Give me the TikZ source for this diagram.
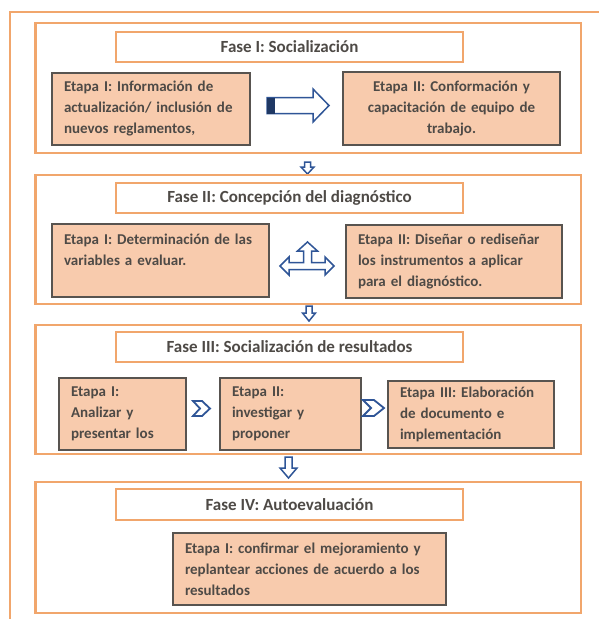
\documentclass[tikz,border=0pt]{standalone}
\usepackage{fontspec}
\setmainfont{Carlito}
\usepackage{xcolor}
\definecolor{naranja}{RGB}{241,166,108}
\definecolor{durazno}{RGB}{248,203,173}
\definecolor{bordegris}{RGB}{88,84,80}
\definecolor{azulflecha}{RGB}{47,85,151}
\definecolor{azuloscuro}{RGB}{31,56,100}
\definecolor{textogris}{RGB}{78,74,70}

\begin{document}
\begin{tikzpicture}[x=1pt,y=1pt]
\tikzstyle{every node}+=[inner sep=0pt, text=textogris, font=\fontsize{15}{21}\selectfont\bfseries]
\tikzstyle{fase}=[draw=naranja, line width=2.4pt, minimum width=545.5pt]
\tikzstyle{titulo}=[draw=naranja, fill=white, line width=2.4pt, minimum width=347pt, minimum height=30pt, font=\fontsize{17}{20}\selectfont\bfseries]
\tikzstyle{etapa}=[draw=bordegris, fill=durazno, line width=1.3pt, inner xsep=12pt, align=left]
\tikzstyle{flecha}=[draw=azulflecha, fill=white, line width=1.5pt, line join=miter]
\fill [white] (0,0) rectangle (599,-619);
\useasboundingbox (0,0) rectangle (599,-619);
\draw [naranja, line width=2.4pt] (10,-619) -- (10,-12) -- (599,-12);

\node [fase, minimum height=130pt] (fase1) at (308.25,-88) {};
\node [titulo] (tit1) at (289.5,-47) {Fase I: Socialización};
\node [etapa, text width=174pt, minimum height=72pt] (et11) at (151,-109) {Etapa I: Información de\\actualización/ inclusión de\\nuevos reglamentos,};
\node [etapa, text width=193pt, minimum height=73pt, align=center] (et12) at (451.5,-108.5) {Etapa II: Conformación y\\capacitación de equipo de\\trabajo.};
\draw [flecha] (267,-97.5) -- (313,-97.5) -- (313,-89) -- (329,-105.5) -- (313,-122) -- (313,-113.5) -- (267,-113.5) -- cycle;
\fill [azuloscuro] (267,-97.5) rectangle (275,-113.5);
\draw [flecha] (304.5,-162) -- (310.5,-162) -- (310.5,-167) -- (314,-167) -- (307.5,-174) -- (301,-167) -- (304.5,-167) -- cycle;

\node [fase, minimum height=129pt] (fase2) at (308.25,-239.5) {};
\node [titulo] (tit2) at (289.5,-198) {Fase II: Concepción del diagnóstico};
\node [etapa, text width=193pt, minimum height=73pt] (et21) at (160.5,-260.5) {Etapa I: Determinación de las\\variables a evaluar.\\\mbox{}};
\node [etapa, text width=192pt, minimum height=73pt] (et22) at (454,-261.5) {Etapa II: Diseñar o rediseñar\\los instrumentos a aplicar\\para el diagnóstico.};
\draw [flecha] (280,-266) -- (289,-257) -- (289,-262.5) -- (303.5,-262.5) -- (303.5,-251) -- (297.5,-251) -- (307.5,-242) -- (317.5,-251) -- (311.5,-251) -- (311.5,-262.5) -- (325,-262.5) -- (325,-257) -- (334,-266) -- (325,-275) -- (325,-269.5) -- (289,-269.5) -- (289,-275) -- cycle;
\draw [flecha] (306,-306) -- (312,-306) -- (312,-313) -- (315.5,-313) -- (309,-321) -- (302.5,-313) -- (306,-313) -- cycle;

\node [fase, minimum height=129pt] (fase3) at (308.25,-389.5) {};
\node [titulo] (tit3) at (289.5,-347) {Fase III: Socialización de resultados};
\node [etapa, text width=103pt, minimum height=72pt] (et31) at (122.5,-414) {Etapa I:\\Analizar y\\presentar los};
\node [etapa, text width=117pt, minimum height=72pt] (et32) at (290.5,-414) {Etapa II:\\investigar y\\proponer};
\node [etapa, text width=142pt, minimum height=67pt] (et33) at (471,-414.5) {Etapa III: Elaboración\\de documento e\\implementación};
\draw [flecha, line width=1.8pt] (193,-401) -- (202,-401) -- (210,-408.5) -- (202,-416) -- (193,-416) -- (200,-408.5) -- cycle;
\draw [flecha, line width=1.8pt] (363,-400) -- (374,-400) -- (384,-408) -- (374,-416) -- (363,-416) -- (371,-408) -- cycle;
\draw [flecha] (285,-457) -- (292,-457) -- (292,-468) -- (297,-468) -- (288.5,-478) -- (280,-468) -- (285,-468) -- cycle;

\node [fase, minimum height=131pt] (fase4) at (308.25,-547.5) {};
\node [titulo, minimum height=31pt] (tit4) at (289.5,-504.5) {Fase IV: Autoevaluación};
\node [etapa, text width=249pt, minimum height=72pt] (et41) at (309.5,-569) {Etapa I: confirmar el mejoramiento y\\replantear acciones de acuerdo a los\\resultados};
\end{tikzpicture}
\end{document}
